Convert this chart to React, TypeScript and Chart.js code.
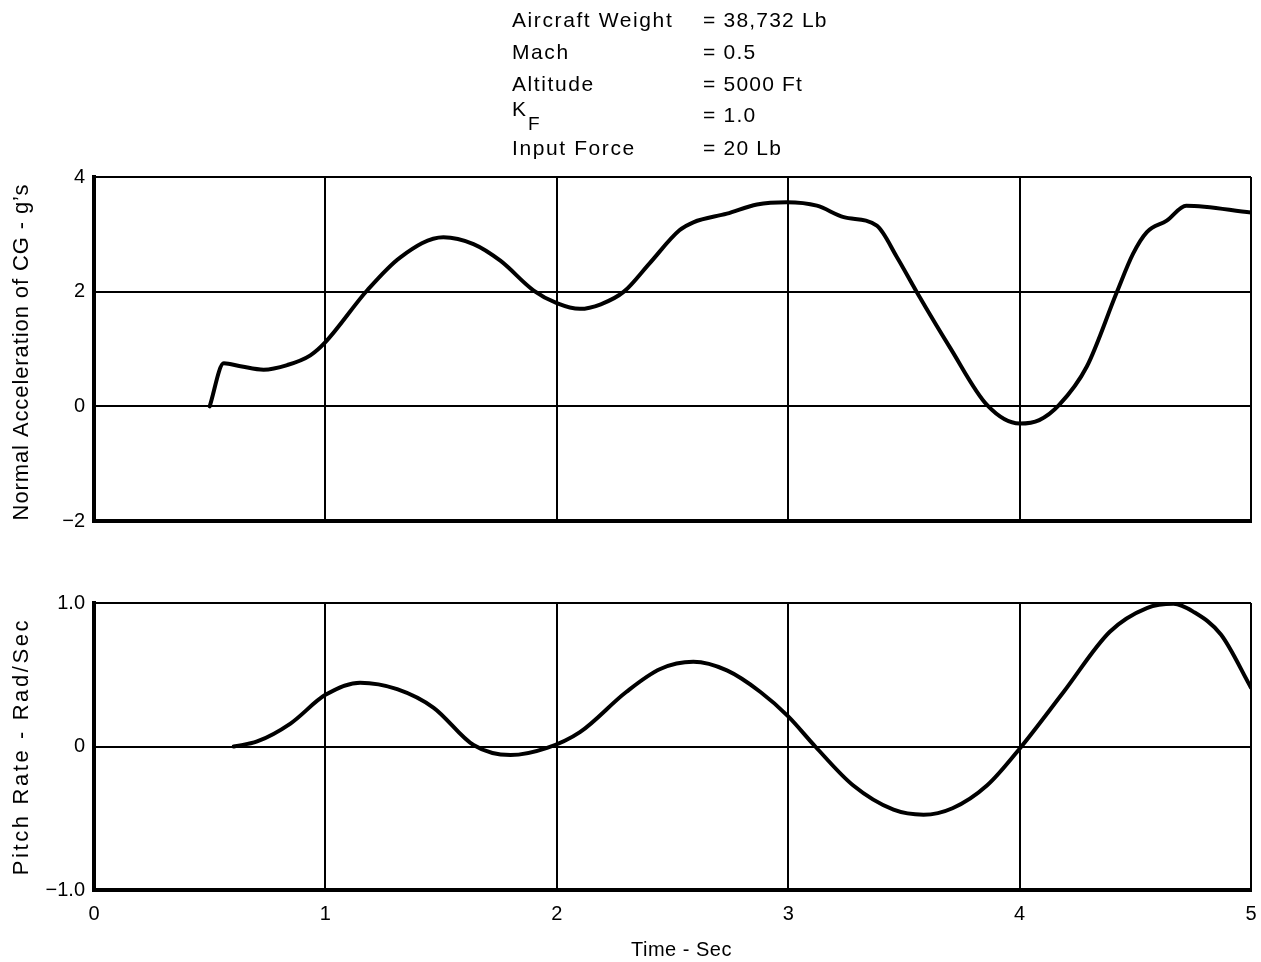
import React, { useEffect, useRef } from "react";
import { Chart, registerables } from "chart.js";

Chart.register(...registerables);

// Time axis (seconds)
const timeTicks = [0, 1, 2, 3, 4, 5];

// Normal acceleration of CG (g's) vs time
const accelTime = [
  0.5, 0.561, 0.633, 0.733, 0.835, 0.935, 1.0, 1.18, 1.324, 1.51, 1.64, 1.756, 1.9, 2.0, 2.1, 2.19,
  2.29, 2.4, 2.53, 2.59, 2.735, 2.865, 2.994, 3.124, 3.24, 3.383, 3.47, 3.556, 3.7, 3.86, 4.0, 4.085,
  4.17, 4.29, 4.42, 4.49, 4.55, 4.636, 4.72, 5.0,
];
const accelG = [
  0, 0.75, 0.7, 0.64, 0.72, 0.89, 1.12, 2.02, 2.6, 2.95, 2.83, 2.54, 2.02, 1.8, 1.7, 1.78,
  2.0, 2.49, 3.07, 3.21, 3.36, 3.52, 3.56, 3.5, 3.3, 3.15, 2.6, 1.99, 1.02, 0.02, -0.3, -0.24,
  0.02, 0.69, 1.99, 2.66, 3.04, 3.24, 3.5, 3.38,
];
const accelTicks = [4, 2, 0, -2];

// Pitch rate (rad/sec) vs time
const pitchTime = [
  0.604, 0.705, 0.849, 1.0, 1.15, 1.31, 1.468, 1.64, 1.8, 1.958, 2.1, 2.3, 2.447, 2.59, 2.735,
  2.88, 3.0, 3.117, 3.28, 3.455, 3.585, 3.71, 3.86, 4.0, 4.19, 4.39, 4.55, 4.665, 4.75, 4.87, 5.0,
];
const pitchRate = [
  0, 0.035, 0.16, 0.36, 0.445, 0.4, 0.27, 0.01, -0.06, -0.01, 0.1, 0.38, 0.54, 0.59, 0.53,
  0.38, 0.21, 0.0, -0.27, -0.44, -0.475, -0.43, -0.27, -0.015, 0.38, 0.8, 0.965, 0.995, 0.94, 0.78, 0.41,
];
const pitchTicks = [1, 0, -1];

// Flight condition block
const conditionLabels = ["Aircraft Weight", "Mach", "Altitude", "K", "Input Force"];
const conditionValues = ["= 38,732 Lb", "= 0.5", "= 5000 Ft", "= 1.0", "= 20 Lb"];

const FONT = "'Liberation Sans', Arial, Helvetica, sans-serif";
const WIDTH = 1261;

const minus = (s: string) => s.replace("-", "\u2212");

function drawSpaced(ctx: CanvasRenderingContext2D, text: string, x: number, y: number, spacing: number) {
  (ctx as any).letterSpacing = spacing + "px";
  ctx.fillText(text, x, y);
  (ctx as any).letterSpacing = "0px";
}

function drawVerticalTitle(ctx: CanvasRenderingContext2D, text: string, cx: number, cy: number, spacing: number) {
  ctx.save();
  ctx.translate(cx, cy);
  ctx.rotate(-Math.PI / 2);
  ctx.font = `22px ${FONT}`;
  ctx.fillStyle = "#000";
  ctx.textAlign = "center";
  ctx.textBaseline = "middle";
  drawSpaced(ctx, text, 0, 0, spacing);
  ctx.restore();
}

const topTextPlugin = {
  id: "topText",
  afterDraw(chart: any) {
    const ctx: CanvasRenderingContext2D = chart.ctx;
    const area = chart.chartArea;
    ctx.save();
    ctx.fillStyle = "#000";
    ctx.textBaseline = "alphabetic";
    ctx.textAlign = "left";
    const baselines = [27, 59, 91, 122, 155];
    conditionLabels.forEach((label, i) => {
      ctx.font = `21px ${FONT}`;
      if (label === "K") {
        drawSpaced(ctx, "K", 512, 116, 1.6);
        const w = ctx.measureText("K").width;
        ctx.font = `19px ${FONT}`;
        drawSpaced(ctx, "F", 512 + w + 2, 130, 1);
      } else {
        drawSpaced(ctx, label, 512, baselines[i], 1.6);
      }
      ctx.font = `21px ${FONT}`;
      drawSpaced(ctx, conditionValues[i], 703, baselines[i], 1.2);
    });
    ctx.restore();
    drawVerticalTitle(ctx, "Normal Acceleration of CG - g\u2019s", 22, (area.top + area.bottom) / 2 + 3, 0.9);
  },
};

const bottomTextPlugin = {
  id: "bottomText",
  afterDraw(chart: any) {
    const ctx: CanvasRenderingContext2D = chart.ctx;
    const area = chart.chartArea;
    drawVerticalTitle(ctx, "Pitch Rate - Rad/Sec", 22, (area.top + area.bottom) / 2, 2.6);
    ctx.save();
    ctx.fillStyle = "#000";
    ctx.font = `20px ${FONT}`;
    ctx.textAlign = "center";
    ctx.textBaseline = "middle";
    drawSpaced(ctx, "Time - Sec", (area.left + area.right) / 2 + 9, 390, 0.5);
    ctx.restore();
  },
};

function xScale(showLabels: boolean, fitHeight: number) {
  return {
    type: "linear" as const,
    min: 0,
    max: 5,
    afterBuildTicks: (s: any) => {
      s.ticks = timeTicks.map((v) => ({ value: v }));
    },
    afterFit: (s: any) => {
      s.height = fitHeight;
      s.paddingLeft = 0;
      s.paddingRight = 0;
    },
    grid: { color: "#000", lineWidth: 2, drawTicks: false },
    border: { display: true, color: "#000", width: 4 },
    ticks: {
      display: showLabels,
      padding: 12,
      color: "#000",
      font: { family: FONT, size: 20 },
      maxRotation: 0,
    },
  };
}

function yScale(min: number, max: number, values: number[], fmt: (v: number) => string) {
  return {
    type: "linear" as const,
    min,
    max,
    afterBuildTicks: (s: any) => {
      s.ticks = values.map((v) => ({ value: v }));
    },
    afterFit: (s: any) => {
      s.width = 94;
      s.paddingTop = 0;
      s.paddingBottom = 0;
    },
    grid: { color: "#000", lineWidth: 2, drawTicks: false },
    border: { display: true, color: "#000", width: 4 },
    ticks: {
      padding: 9,
      color: "#000",
      font: { family: FONT, size: 20 },
      callback: (v: any) => fmt(Number(v)),
    },
  };
}

function lineDataset(xs: number[], ys: number[]) {
  return {
    data: xs.map((x, i) => ({ x, y: ys[i] })),
    borderColor: "#000",
    borderWidth: 4,
    pointRadius: 0,
    fill: false,
    cubicInterpolationMode: "monotone" as const,
    borderCapStyle: "round" as const,
    borderJoinStyle: "round" as const,
  };
}

export default function App() {
  const topRef = useRef<HTMLCanvasElement>(null);
  const bottomRef = useRef<HTMLCanvasElement>(null);

  useEffect(() => {
    const common = {
      responsive: false,
      animation: false as const,
      devicePixelRatio: 1,
      plugins: { legend: { display: false }, tooltip: { enabled: false } },
    };

    const top = new Chart(topRef.current!, {
      type: "line",
      data: { datasets: [lineDataset(accelTime, accelG)] },
      options: {
        ...common,
        layout: { padding: { top: 177, bottom: 24, left: 0, right: 10 } },
        scales: {
          x: xScale(false, 0),
          y: yScale(-2, 4, accelTicks, (v) => minus(String(v))),
        },
      },
      plugins: [topTextPlugin],
    });

    const bottom = new Chart(bottomRef.current!, {
      type: "line",
      data: { datasets: [lineDataset(pitchTime, pitchRate)] },
      options: {
        ...common,
        layout: { padding: { top: 43, bottom: 0, left: 0, right: 10 } },
        scales: {
          x: xScale(true, 72),
          y: yScale(-1, 1, pitchTicks, (v) => (v === 0 ? "0" : minus(v.toFixed(1)))),
        },
      },
      plugins: [bottomTextPlugin],
    });

    return () => {
      top.destroy();
      bottom.destroy();
    };
  }, []);

  return (
    <div style={{ position: "absolute", left: 0, top: 0, width: WIDTH, height: 962, background: "#fff" }}>
      <canvas ref={topRef} width={WIDTH} height={545} style={{ position: "absolute", left: 0, top: 0 }} />
      <canvas ref={bottomRef} width={WIDTH} height={402} style={{ position: "absolute", left: 0, top: 560 }} />
    </div>
  );
}
